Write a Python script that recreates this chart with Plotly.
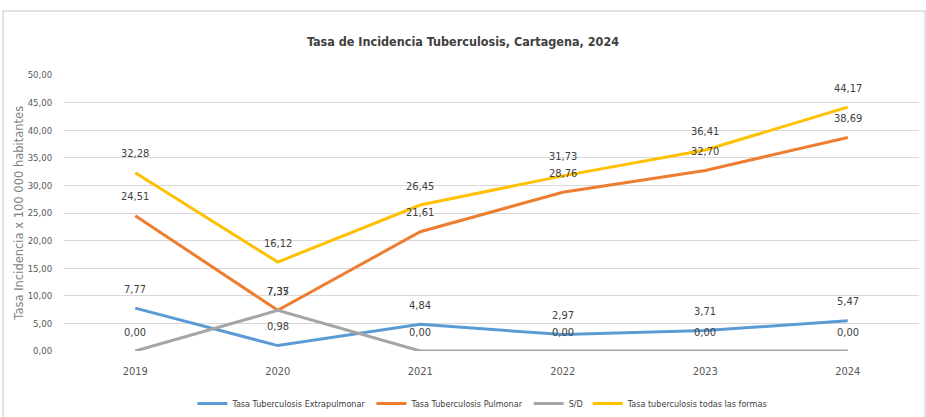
import plotly.graph_objects as go

years = ["2019", "2020", "2021", "2022", "2023", "2024"]
extrapulmonar = [7.77, 0.98, 4.84, 2.97, 3.71, 5.47]
pulmonar = [24.51, 7.37, 21.61, 28.76, 32.70, 38.69]
sin_dato = [0.00, 7.35, 0.00, 0.00, 0.00, 0.00]
todas = [32.28, 16.12, 26.45, 31.73, 36.41, 44.17]
names = ["Tasa Tuberculosis Extrapulmonar", "Tasa Tuberculosis Pulmonar", "S/D",
         "Tasa tuberculosis todas las formas"]
colors = ["#5B9BD5", "#ED7D31", "#A5A5A5", "#FFC000"]
series = [extrapulmonar, pulmonar, sin_dato, todas]
y_title = "Tasa Incidencia x 100 000 habitantes"

FONT = "DejaVu Sans Condensed, Liberation Sans Narrow, Arial Narrow, Roboto, sans-serif"

fig = go.Figure()
annotations = []
for name, vals, col in zip(names, series, colors):
    fig.add_trace(go.Scatter(x=years, y=vals, mode="lines", name=name,
                             line=dict(color=col, width=3)))
    for i, v in enumerate(vals):
        annotations.append(dict(x=i, y=v, text=f"{v:.2f}".replace(".", ","),
                                showarrow=False, yshift=19,
                                font=dict(family=FONT, size=11, color="#404040")))

annotations.append(dict(text=y_title, xref="paper", yref="paper", x=-0.053, y=0.5,
                        textangle=-90, showarrow=False, xanchor="center", yanchor="middle",
                        font=dict(family="DejaVu Sans", size=11.5, color="#7F7F7F")))

fig.update_layout(
    width=926, height=417,
    paper_bgcolor="white", plot_bgcolor="white",
    margin=dict(l=64, r=7, t=75, b=66, autoexpand=False),
    separators=",.",
    title=dict(text="<b>Tasa de Incidencia Tuberculosis, Cartagena, 2024</b>",
               x=0.5, xanchor="center", y=0.9, yanchor="middle",
               font=dict(family=FONT, size=12.5, color="#404040")),
    showlegend=True,
    legend=dict(orientation="h", x=0.49, xanchor="center", y=-0.19, yanchor="middle",
                font=dict(family=FONT, size=9, color="#404040"),
                itemwidth=30, tracegroupgap=0),
    annotations=annotations,
    shapes=[dict(type="rect", xref="paper", yref="paper",
                 x0=-0.0713, x1=1.007, y0=-0.25, y1=1.232,
                 line=dict(color="#D9D9D9", width=1.5), layer="below")],
)
fig.update_xaxes(type="category", range=[-0.5, 5.5], automargin=False,
                 showgrid=False, showline=False, ticks="outside", ticklen=10,
                 tickcolor="rgba(0,0,0,0)",
                 tickfont=dict(family=FONT, size=11, color="#595959"))
fig.update_yaxes(range=[0, 50], dtick=5, tickformat=".2f", showgrid=True, automargin=False,
                 gridcolor="#D9D9D9", gridwidth=1, zeroline=False, showline=False,
                 ticks="outside", ticklen=9, tickcolor="rgba(0,0,0,0)",
                 tickfont=dict(family=FONT, size=9.5, color="#595959"))

fig.write_html("out.html", config={"displayModeBar": False},
               post_script="document.body.style.margin='0';")
